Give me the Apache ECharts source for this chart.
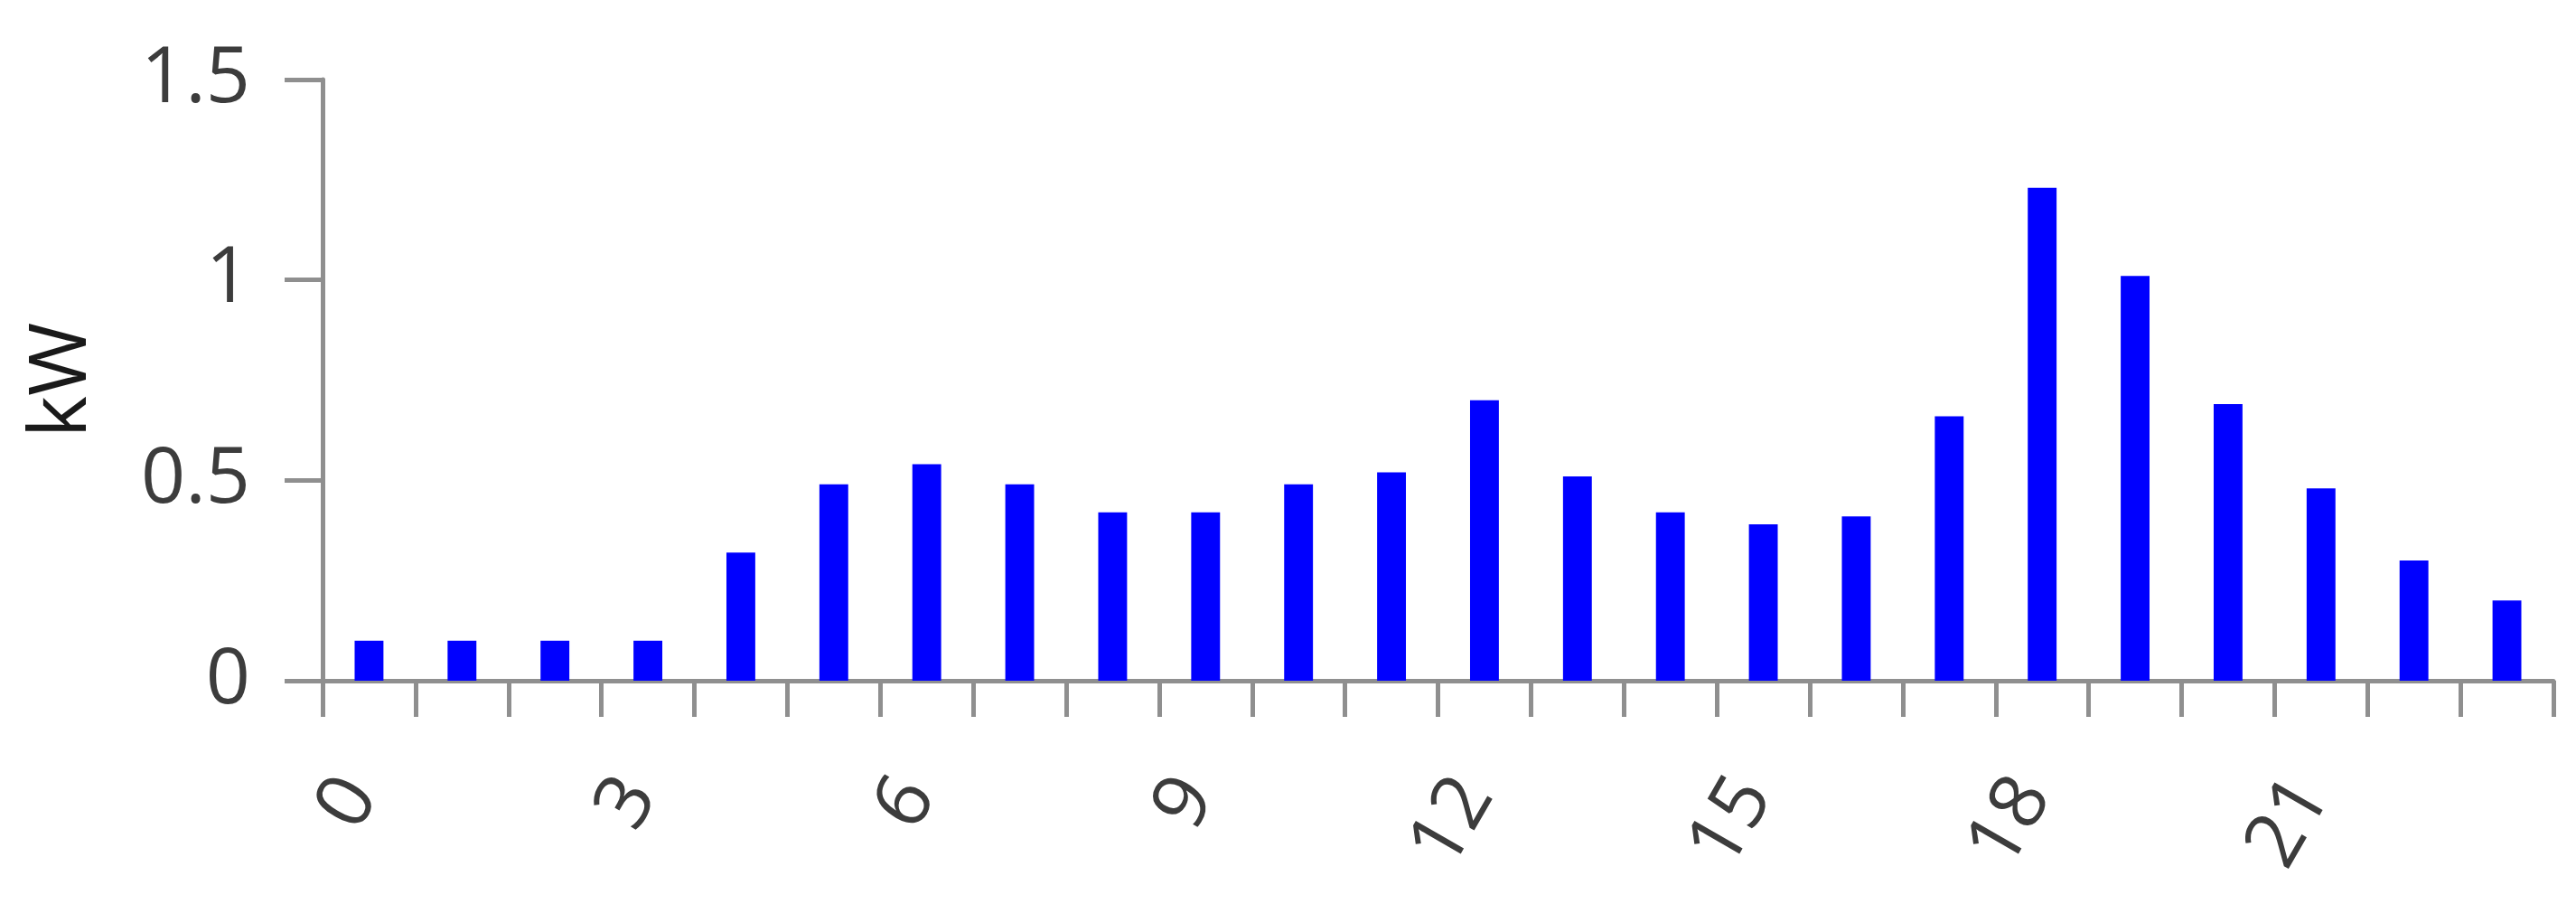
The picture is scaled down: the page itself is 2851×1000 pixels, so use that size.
<!DOCTYPE html>
<html>
<head>
<meta charset="utf-8">
<script src="https://cdn.jsdelivr.net/npm/echarts@6/dist/echarts.min.js"></script>
<style>
  html, body { margin: 0; padding: 0; background: #ffffff; }
  #chart { width: 2851px; height: 1000px; }
</style>
</head>
<body>
<div id="chart"></div>
<script>
var hours = ['0','1','2','3','4','5','6','7','8','9','10','11','12','13','14','15','16','17','18','19','20','21','22','23'];
var powerKW = [0.1, 0.1, 0.1, 0.1, 0.32, 0.49, 0.54, 0.49, 0.42, 0.42, 0.49, 0.52, 0.7, 0.51, 0.42, 0.39, 0.41, 0.66, 1.23, 1.01, 0.69, 0.48, 0.3, 0.2];
var yTicks = [0, 0.5, 1, 1.5];
var yName = 'kW';

var chart = echarts.init(document.getElementById('chart'), null, { renderer: 'canvas' });
var fontFam = '"Open Sans", "Noto Sans", sans-serif';
var axisGrey = '#8f8f8f';

chart.setOption({
  animation: false,
  backgroundColor: '#ffffff',
  grid: { left: 357, right: 25, top: 88, bottom: 247, containLabel: false },
  xAxis: {
    type: 'category',
    data: hours,
    boundaryGap: true,
    axisLine: { show: true, lineStyle: { color: axisGrey, width: 5 } },
    axisTick: { show: true, interval: 0, alignWithLabel: false, length: 40, lineStyle: { color: axisGrey, width: 5 } },
    axisLabel: {
      show: true, interval: 2, rotate: 60, margin: 97,
      padding: [0, 20, 0, 0],
      fontFamily: fontFam, fontSize: 86, color: '#3c3c3c'
    },
    splitLine: { show: false }
  },
  yAxis: {
    type: 'value',
    min: yTicks[0],
    max: yTicks[yTicks.length - 1],
    interval: 0.5,
    name: yName,
    nameLocation: 'middle',
    nameGap: 243,
    nameRotate: 90,
    nameTextStyle: { fontFamily: fontFam, fontSize: 88, color: '#1a1a1a' },
    axisLine: { show: true, lineStyle: { color: axisGrey, width: 5 } },
    axisTick: { show: true, length: 42, lineStyle: { color: axisGrey, width: 5 } },
    axisLabel: {
      show: true, margin: 80,
      fontFamily: fontFam, fontSize: 86, color: '#3c3c3c',
      formatter: function (v) { return String(v); }
    },
    splitLine: { show: false }
  },
  series: [{
    type: 'bar',
    data: powerKW,
    barWidth: '31%',
    itemStyle: { color: '#0000ff' }
  }]
});
</script>
</body>
</html>
